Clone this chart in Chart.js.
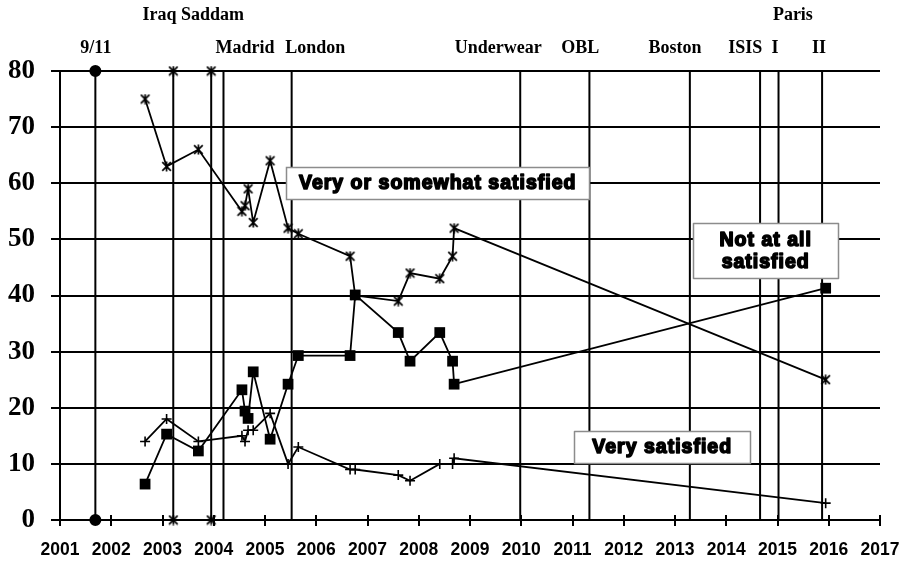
<!DOCTYPE html>
<html>
<head>
<meta charset="utf-8">
<script src="https://cdn.jsdelivr.net/npm/chart.js@4/dist/chart.umd.min.js"></script>
<style>
  html, body { margin: 0; padding: 0; background: #fff; }
</style>
</head>
<body>
<canvas id="satisfaction-chart" width="907" height="565"></canvas>
<script>
// survey dates (decimal years) and the three answer series
const surveyDates = [2002.66, 2003.08, 2003.70, 2004.55, 2004.61, 2004.67, 2004.77, 2005.10, 2005.45,
                     2005.65, 2006.66, 2006.76, 2007.60, 2007.83, 2008.41, 2008.66, 2008.69, 2015.94];
const somewhatSatisfied = [75, 63, 66, 55, 56, 59, 53, 64, 52, 51, 47, 40, 39, 44, 43, 47, 52, 25];
const notAtAllSatisfied = [6.4, 15.3, 12.3, 23.2, 19.4, 18.1, 26.4, 14.4, 24.2, 29.3, 29.3, 40.1,
                           33.4, 28.3, 33.4, 28.3, 24.2, 41.3];
const verySatisfied = [14, 18, 14, 15, 14, 16, 16, 19, 10, 13, 9, 9, 8, 7, 10, 10, 11, 3];

// attacks / events drawn as vertical lines
const eventNames = ['9/11', 'Iraq', 'Saddam', 'Madrid', 'London', 'Underwear', 'OBL', 'Boston', 'ISIS', 'Paris I', 'Paris II'];
const eventDates = [2001.69, 2003.21, 2003.95, 2004.19, 2005.52, 2009.98, 2011.33, 2013.29, 2014.66, 2015.02, 2015.87];

const yearTicks = [2001, 2002, 2003, 2004, 2005, 2006, 2007, 2008, 2009, 2010, 2011, 2012, 2013, 2014, 2015, 2016, 2017];
const percentTicks = [0, 10, 20, 30, 40, 50, 60, 70, 80];

// event captions above the plot: text, year it is centred on, row
const eventCaptions = [
  ['Iraq Saddam', 2003.60, 0],
  ['Paris', 2015.30, 0],
  ['9/11', 2001.70, 1],
  ['Madrid', 2004.61, 1],
  ['London', 2005.98, 1],
  ['Underwear', 2009.55, 1],
  ['OBL', 2011.15, 1],
  ['Boston', 2013.00, 1],
  ['ISIS', 2014.37, 1],
  ['I', 2014.95, 1],
  ['II', 2015.81, 1]
];

// series name boxes, centred on a (year, percent) spot
const seriesBoxes = [
  { lines: ['Very or somewhat satisfied'], x: 2008.37, y: 60.1, w: 303, h: 32 },
  { lines: ['Not at all', 'satisfied'], x: 2014.77, y: 48.0, w: 145, h: 55 },
  { lines: ['Very satisfied'], x: 2012.75, y: 13.0, w: 176, h: 32 }
];

// asterisk marker
function makeStar(size) {
  const c = document.createElement('canvas');
  c.width = size; c.height = size;
  const g = c.getContext('2d');
  const m = 1.2, e = size - 1.2, h = size / 2;
  g.strokeStyle = '#000';
  g.lineWidth = 1.7;
  g.beginPath();
  g.moveTo(m, m); g.lineTo(e, e);
  g.moveTo(e, m); g.lineTo(m, e);
  g.moveTo(h, 0.5); g.lineTo(h, size - 0.5);
  g.stroke();
  return c;
}
const starMark = makeStar(11);

const toPoints = (xs, ys) => xs.map((x, i) => ({ x: x, y: ys[i] }));

const seriesSets = [
  {
    label: 'Not at all satisfied',
    data: toPoints(surveyDates, notAtAllSatisfied),
    pointStyle: 'rect', pointRadius: 7.6, pointBackgroundColor: '#000', pointBorderWidth: 0
  },
  {
    label: 'Very or somewhat satisfied',
    data: toPoints(surveyDates, somewhatSatisfied),
    pointStyle: starMark, pointRadius: 5
  },
  {
    label: 'Very satisfied',
    data: toPoints(surveyDates, verySatisfied),
    pointStyle: 'cross', pointRadius: 5, pointBorderWidth: 1.6, pointBorderColor: '#000'
  }
].map(ds => Object.assign({ showLine: true, borderColor: '#000', borderWidth: 1.8, clip: false }, ds));

const eventSets = eventDates.map((d, i) => ({
  label: eventNames[i],
  data: [{ x: d, y: 0 }, { x: d, y: 80 }],
  showLine: true,
  borderColor: '#000',
  borderWidth: 2,
  clip: false,
  pointStyle: i === 0 ? 'circle' : starMark,
  pointRadius: i < 3 ? 5 : 0,
  pointBackgroundColor: '#000',
  pointBorderColor: '#000'
}));

const overlay = {
  id: 'overlay',
  beforeDatasetsDraw(chart) {
    const { ctx, scales: { x, y } } = chart;
    const y0 = y.getPixelForValue(0);
    ctx.save();
    ctx.strokeStyle = '#000';
    ctx.lineWidth = 2;
    yearTicks.forEach(v => {
      const px = Math.round(x.getPixelForValue(v));
      ctx.beginPath();
      ctx.moveTo(px, y0 - 5);
      ctx.lineTo(px, y0 + 6);
      ctx.stroke();
    });
    ctx.restore();
  },
  afterDatasetsDraw(chart) {
    const { ctx, scales: { x, y } } = chart;
    ctx.save();
    seriesBoxes.forEach(b => {
      const cx = x.getPixelForValue(b.x);
      const cy = y.getPixelForValue(b.y);
      const left = Math.round(cx - b.w / 2) + 0.5;
      const top = Math.round(cy - b.h / 2) + 0.5;
      ctx.fillStyle = '#fff';
      ctx.fillRect(left, top, b.w, b.h);
      ctx.strokeStyle = '#8c8c8c';
      ctx.lineWidth = 1.5;
      ctx.strokeRect(left, top, b.w, b.h);

      // heavy lettering: bold face thickened with a stroke
      ctx.font = 'bold 19.5px "Liberation Sans", Arial, sans-serif';
      ctx.letterSpacing = '1px';
      ctx.textAlign = 'center';
      ctx.textBaseline = 'middle';
      ctx.fillStyle = '#000';
      ctx.strokeStyle = '#000';
      ctx.lineWidth = 1.6;
      ctx.lineJoin = 'round';
      const lh = 21.7;
      b.lines.forEach((t, i) => {
        const ty = cy + (i - (b.lines.length - 1) / 2) * lh + 1;
        ctx.fillText(t, cx, ty);
        ctx.strokeText(t, cx, ty);
      });
    });
    ctx.restore();
  },
  afterDraw(chart) {
    const { ctx, scales: { x } } = chart;
    const rows = [15, 48.5];
    ctx.save();
    ctx.font = 'bold 18px "Liberation Serif", "Times New Roman", serif';
    ctx.textAlign = 'center';
    ctx.textBaseline = 'middle';
    ctx.fillStyle = '#000';
    eventCaptions.forEach(([t, yr, row]) => {
      ctx.fillText(t, x.getPixelForValue(yr), rows[row]);
    });
    ctx.restore();
  }
};

const ctx = document.getElementById('satisfaction-chart').getContext('2d');
const satisfactionChart = new Chart(ctx, {
  type: 'scatter',
  data: { datasets: seriesSets.concat(eventSets) },
  options: {
    responsive: false,
    animation: false,
    events: [],
    layout: { padding: { top: 71, right: 27, left: 0, bottom: 0 } },
    plugins: {
      legend: { display: false },
      tooltip: { enabled: false }
    },
    scales: {
      x: {
        type: 'linear',
        min: 2001,
        max: 2017,
        afterBuildTicks: s => { s.ticks = yearTicks.map(v => ({ value: v })); },
        afterFit: s => { s.height = 45; s.paddingLeft = 0; s.paddingRight = 0; },
        grid: { display: false, drawTicks: false },
        border: { display: false },
        ticks: {
          autoSkip: false,
          maxRotation: 0,
          padding: 20,
          color: '#000',
          font: { family: '"Liberation Sans", Arial, sans-serif', size: 17.5, weight: 'bold' },
          callback: v => String(v)
        }
      },
      y: {
        type: 'linear',
        min: 0,
        max: 80,
        afterBuildTicks: s => { s.ticks = percentTicks.map(v => ({ value: v })); },
        afterFit: s => { s.width = 60; s.paddingTop = 0; s.paddingBottom = 0; },
        grid: { color: '#000', lineWidth: 2, tickLength: 9 },
        border: { display: true, color: '#000', width: 2 },
        ticks: {
          padding: 16,
          color: '#000',
          font: { family: '"Liberation Serif", "Times New Roman", serif', size: 27, weight: 'bold' }
        }
      }
    }
  },
  plugins: [overlay]
});
</script>
</body>
</html>
